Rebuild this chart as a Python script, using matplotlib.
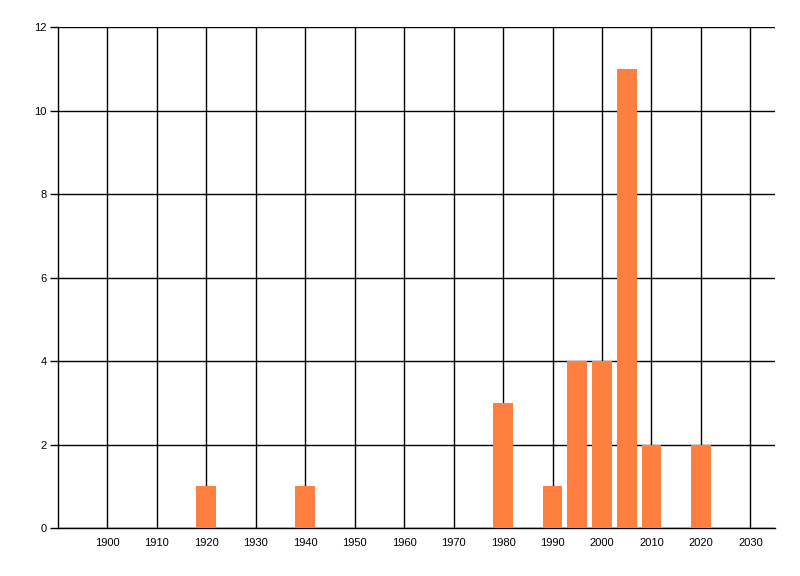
import matplotlib
matplotlib.use("Agg")
import matplotlib.pyplot as plt

# bar positions (year) and counts
years = [1920, 1940, 1980, 1990, 1995, 2000, 2005, 2010, 2020]
counts = [1, 1, 3, 1, 4, 4, 11, 2, 2]
x_ticks = list(range(1900, 2031, 10))
y_ticks = [0, 2, 4, 6, 8, 10, 12]

plt.rcParams['font.family'] = ['Liberation Sans', 'DejaVu Sans']

fig = plt.figure(figsize=(8, 5.76), dpi=100)
ax = fig.add_axes([0.0725, 0.0833, 0.8963, 0.8698])

ax.set_axisbelow(True)
ax.grid(True, color="black", linewidth=1)
ax.bar(years, counts, width=4, color="#FF7F40", zorder=3)

ax.set_xlim(1890, 2035)
ax.set_ylim(0, 12)
ax.set_xticks(x_ticks)
ax.set_yticks(y_ticks)

for side in ["top", "right"]:
    ax.spines[side].set_visible(False)
for side in ["left", "bottom"]:
    ax.spines[side].set_color("black")
    ax.spines[side].set_linewidth(1)

ax.tick_params(axis="y", length=6, width=1, pad=2, labelsize=8)
ax.tick_params(axis="x", length=0, pad=7, labelsize=8)

fig.savefig("out.png", dpi=100)
